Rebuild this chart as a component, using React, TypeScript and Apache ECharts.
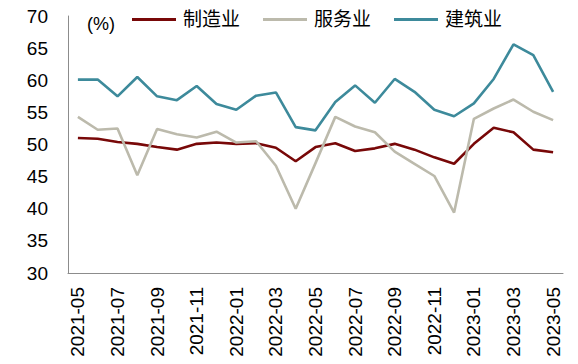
import React, { useEffect, useRef } from "react";
import * as echarts from "echarts";

const months = [
  "2021-05", "2021-06", "2021-07", "2021-08", "2021-09", "2021-10", "2021-11", "2021-12",
  "2022-01", "2022-02", "2022-03", "2022-04", "2022-05", "2022-06", "2022-07", "2022-08",
  "2022-09", "2022-10", "2022-11", "2022-12", "2023-01", "2023-02", "2023-03", "2023-04", "2023-05",
];
const manufacturing = [
  51.0, 50.9, 50.4, 50.1, 49.6, 49.2, 50.1, 50.3, 50.1, 50.2, 49.5, 47.4, 49.6,
  50.2, 49.0, 49.4, 50.1, 49.2, 48.0, 47.0, 50.1, 52.6, 51.9, 49.2, 48.8,
];
const services = [
  54.3, 52.3, 52.5, 45.2, 52.4, 51.6, 51.1, 52.0, 50.3, 50.5, 46.7, 40.0, 47.1,
  54.3, 52.8, 51.9, 48.9, 47.0, 45.1, 39.4, 54.0, 55.6, 57.0, 55.1, 53.8,
];
const construction = [
  60.1, 60.1, 57.5, 60.5, 57.5, 56.9, 59.1, 56.3, 55.4, 57.6, 58.1, 52.7, 52.2,
  56.6, 59.2, 56.5, 60.2, 58.2, 55.4, 54.4, 56.4, 60.2, 65.6, 63.9, 58.2,
];
const seriesNames = ["制造业", "服务业", "建筑业"];
const colors = ["#780808", "#BCBAAC", "#3D8A9B"];

const numFont = "'Liberation Sans', Arial, sans-serif";
const cjkFont = "'Liberation Sans', 'Noto Sans CJK SC', sans-serif";

export default function App() {
  const ref = useRef<HTMLDivElement>(null);
  useEffect(() => {
    if (!ref.current) return;
    const chart = echarts.init(ref.current, null, { renderer: "svg" });
    const data = [manufacturing, services, construction];
    chart.setOption({
      animation: false,
      backgroundColor: "#ffffff",
      grid: { left: 68, right: 15, top: 16, bottom: 91, containLabel: false },
      legend: {
        data: seriesNames,
        left: 127,
        top: 5,
        icon: "rect",
        itemWidth: 44,
        itemHeight: 3,
        itemGap: 23,
        textStyle: { fontSize: 19, color: "#000", fontFamily: cjkFont, padding: [0, 0, 0, 2] },
      },
      graphic: [
        {
          type: "text",
          left: 87,
          top: 15,
          style: { text: "(%)", fontSize: 18, fill: "#000", fontFamily: numFont },
        },
      ],
      xAxis: {
        type: "category",
        data: months,
        boundaryGap: true,
        axisLine: { lineStyle: { color: "#8c8c8c", width: 1 } },
        axisTick: { interval: 1, length: 5, lineStyle: { color: "#8c8c8c" } },
        axisLabel: {
          interval: 1,
          rotate: 90,
          margin: 14,
          fontSize: 19,
          color: "#000",
          fontFamily: numFont,
        },
      },
      yAxis: {
        type: "value",
        min: 30,
        max: 70,
        interval: 5,
        axisLine: { show: true, lineStyle: { color: "#8c8c8c", width: 1 } },
        axisTick: { show: false },
        splitLine: { show: false },
        axisLabel: { fontSize: 19, color: "#000", margin: 20, fontFamily: numFont },
      },
      series: seriesNames.map((name, i) => ({
        name,
        type: "line",
        data: data[i],
        symbol: "none",
        lineStyle: { color: colors[i], width: 2.6 },
        itemStyle: { color: colors[i] },
      })),
    });
    return () => chart.dispose();
  }, []);
  return <div ref={ref} style={{ width: 578, height: 364, position: "absolute", left: 0, top: 0 }} />;
}
